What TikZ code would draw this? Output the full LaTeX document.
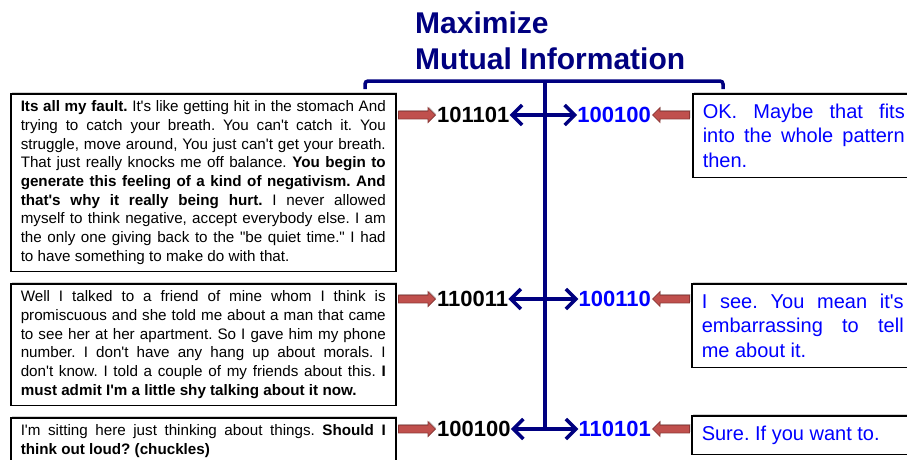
\documentclass[tikz,border=0pt]{standalone}
\usepackage{fontspec}
\setmainfont{Liberation Sans}[Ligatures=TeXOff]
\usetikzlibrary{positioning,shapes.arrows,arrows.meta,shadows}
\definecolor{navy}{RGB}{0,0,128}
\definecolor{arrowred}{RGB}{192,80,77}
\definecolor{arrowedge}{RGB}{140,56,54}
\frenchspacing

\begin{document}
\begin{tikzpicture}[x=1pt,y=-1pt,
    talk/.style={draw,fill=white,line width=1.5pt,anchor=north west,inner xsep=10pt,inner ysep=7pt,
      drop shadow={shadow xshift=1.5pt,shadow yshift=1.5pt,opacity=0.35},
      text width=365pt,align=justify,font=\fontsize{15.2}{18.7}\selectfont},
    reply/.style={talk,inner ysep=10pt,text width=202pt,text=blue,font=\fontsize{20}{24.5}\selectfont},
    code/.style={inner sep=0pt,font=\fontsize{22}{26}\selectfont\bfseries},
    fat/.style={single arrow,draw=arrowedge,fill=arrowred,line width=0.8pt,inner sep=0pt,
      drop shadow={shadow xshift=1pt,shadow yshift=1pt,opacity=0.35},
      text height=3.5pt,text depth=3.5pt,minimum height=37pt,single arrow head extend=3.5pt},
    link/.style={navy,line width=3.5pt,{Straight Barb[length=10pt,width=20pt]}-{Straight Barb[length=10pt,width=20pt]}}]
  \useasboundingbox (0,0) rectangle (907,459);
  \clip (0,0) rectangle (907,459);
  \node[anchor=north west,inner sep=0pt,align=left,text=navy,font=\fontsize{30}{36}\selectfont\bfseries]
    (title) at (415,11.5) {Maximize\\Mutual Information};
  \draw[navy,line width=3.5pt,rounded corners=3pt] (365,89) -- (365,81) -- (723,81) -- (723,89);
  \coordinate (stemtop) at (545,81);
  \node[talk] (say1) at (10,93) {\textbf{Its all my fault.} It's like getting hit in the stomach And\linebreak
    trying to catch your breath. You can't catch it. You\linebreak
    struggle, move around, You just can't get your breath.\linebreak
    That just really knocks me off balance. \textbf{You begin to\linebreak
    generate this feeling of a kind of negativism. And\linebreak
    that's why it really being hurt.} I never allowed\linebreak
    myself to think negative, accept everybody else. I am\linebreak
    the only one giving back to the "be quiet time." I had\linebreak
    to have something to make do with that.};
  \node[talk] (say2) at (10,283) {Well I talked to a friend of mine whom I think is\linebreak
    promiscuous and she told me about a man that came\linebreak
    to see her at her apartment. So I gave him my phone\linebreak
    number. I don't have any hang up about morals. I\linebreak
    don't know. I told a couple of my friends about this. \textbf{I\linebreak
    must admit I'm a little shy talking about it now.}};
  \node[talk] (say3) at (10,417) {I'm sitting here just thinking about things. \textbf{Should I\linebreak
    think out loud? (chuckles)}};
  \node[reply] (ans1) at (692,93) {OK. Maybe that fits\linebreak into the whole pattern\linebreak then.};
  \node[reply] (ans2) at (691,283) {I see. You mean it's\linebreak embarrassing to tell\linebreak me about it.};
  \node[reply] (ans3) at (691,415) {Sure. If you want to.};
  \foreach \y/\a/\b [count=\i] in {115/101101/100100,299/110011/100110,429/100100/110101} {
    \node[code,anchor=west] (l\i) at (437,\y) {\a};
    \node[code,anchor=east,text=blue] (r\i) at (651,\y) {\b};
    \node[fat,left=1pt of l\i] (fl\i) {};
    \node[fat,shape border rotate=180,right=1pt of r\i] (fr\i) {};
    \draw[link] (l\i) -- (r\i);
  }
  \draw[navy,line width=3.5pt] (stemtop) -- (stemtop |- l3);
\end{tikzpicture}
\end{document}
